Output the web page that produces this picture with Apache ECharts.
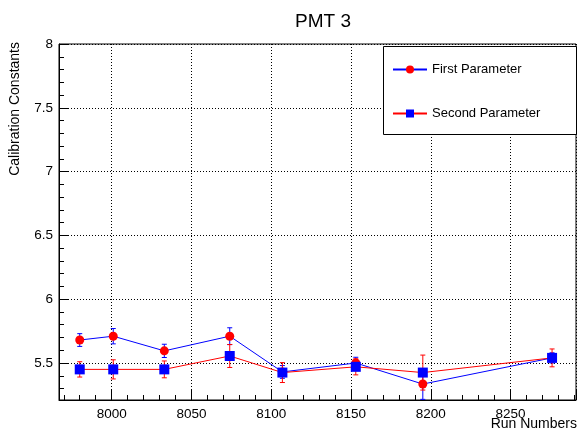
<!DOCTYPE html>
<html>
<head>
<meta charset="utf-8">
<script src="https://cdn.jsdelivr.net/npm/echarts@6/dist/echarts.min.js"></script>
<style>
  html, body { margin: 0; padding: 0; background: #fff; }
  #chart { width: 579px; height: 434px; }
</style>
</head>
<body>
<div id="chart"></div>
<script>
// run numbers and the two fit parameters with their errors
const runs = [7980, 8001, 8033, 8074, 8107, 8153, 8195, 8276];
const firstVals = [5.68, 5.71, 5.595, 5.71, 5.43, 5.50, 5.335, 5.54];
const firstErrs = [0.05, 0.06, 0.052, 0.066, 0.05, 0.045, 0.12, 0.04];
const secondVals = [5.45, 5.45, 5.45, 5.555, 5.425, 5.47, 5.425, 5.54];
const secondErrs = [0.06, 0.075, 0.066, 0.09, 0.078, 0.063, 0.137, 0.07];

const font = "Liberation Sans";

function pairs(xs, ys) {
  return xs.map((x, i) => [x, ys[i]]);
}
function errData(xs, ys, es) {
  return xs.map((x, i) => [x, ys[i], es[i]]);
}
function errBars(color) {
  return function (params, api) {
    const x = api.value(0), y = api.value(1), e = api.value(2);
    const lo = api.coord([x, y - e]);
    const hi = api.coord([x, y + e]);
    const cap = 2.5;
    const style = { stroke: color, lineWidth: 1 };
    return {
      type: "group",
      children: [
        { type: "line", shape: { x1: lo[0], y1: lo[1], x2: hi[0], y2: hi[1] }, style: style },
        { type: "line", shape: { x1: lo[0] - cap, y1: lo[1], x2: lo[0] + cap, y2: lo[1] }, style: style },
        { type: "line", shape: { x1: hi[0] - cap, y1: hi[1], x2: hi[0] + cap, y2: hi[1] }, style: style }
      ]
    };
  };
}

const chart = echarts.init(document.getElementById("chart"));
chart.setOption({
  animation: false,
  title: {
    text: "PMT 3",
    left: 290,
    top: 7,
    textStyle: { fontFamily: font, fontSize: 19, fontWeight: "normal", color: "#000" }
  },
  grid: {
    left: 59, right: 2, top: 44, bottom: 34,
    show: true, borderColor: "#000", borderWidth: 1, backgroundColor: "transparent"
  },
  legend: {
    orient: "vertical",
    left: 387,
    top: 58,
    itemGap: 31,
    itemWidth: 34,
    itemHeight: 10,
    z: 10,
    textStyle: { fontFamily: font, fontSize: 13, color: "#000" },
    data: ["First Parameter", "Second Parameter"]
  },
  graphic: [
    {
      type: "rect", z: 9,
      shape: { x: 383.5, y: 46.5, width: 193, height: 88 },
      style: { fill: "#fff", stroke: "#000", lineWidth: 1 }
    },
    {
      type: "text", x: 577, y: 417,
      style: { text: "Run Numbers", textAlign: "right", textVerticalAlign: "top",
               fontFamily: font, fontSize: 14, fill: "#000" }
    },
    {
      type: "text", x: 8, y: 42, rotation: Math.PI / 2,
      style: { text: "Calibration Constants", textAlign: "right", textVerticalAlign: "top",
               fontFamily: font, fontSize: 14, fill: "#000" }
    }
  ],
  xAxis: {
    type: "value",
    min: 7967,
    max: 8291,
    splitNumber: 6,
    axisLine: { lineStyle: { color: "#000" } },
    axisTick: { inside: true, length: 10, lineStyle: { color: "#000" } },
    minorTick: { show: true, splitNumber: 5, length: 5, lineStyle: { color: "#000" } },
    axisLabel: {
      color: "#000", fontFamily: font, fontSize: 13.5, margin: 7,
      formatter: v => (v % 50 === 0 ? String(v) : "")
    },
    splitLine: { show: true, lineStyle: { color: "#000", type: [1, 2] } }
  },
  yAxis: {
    type: "value",
    min: 5.21,
    max: 8,
    splitNumber: 5,
    axisLine: { show: true, lineStyle: { color: "#000" } },
    axisTick: { show: true, inside: true, length: 10, lineStyle: { color: "#000" } },
    minorTick: { show: true, splitNumber: 5, length: 5, lineStyle: { color: "#000" } },
    axisLabel: {
      color: "#000", fontFamily: font, fontSize: 13.5, margin: 6,
      formatter: v => (Math.abs(v * 2 - Math.round(v * 2)) < 1e-6 ? String(+v.toFixed(1)) : "")
    },
    splitLine: { show: true, lineStyle: { color: "#000", type: [1, 2] } }
  },
  series: [
    {
      name: "First Parameter err",
      type: "custom",
      renderItem: errBars("#0000ff"),
      data: errData(runs, firstVals, firstErrs),
      z: 2,
      silent: true
    },
    {
      name: "First Parameter",
      type: "line",
      data: pairs(runs, firstVals),
      symbol: "circle",
      symbolSize: 9,
      lineStyle: { color: "#0000ff", width: 1 },
      itemStyle: { color: "#ff0000" },
      z: 3
    },
    {
      name: "Second Parameter err",
      type: "custom",
      renderItem: errBars("#ff0000"),
      data: errData(runs, secondVals, secondErrs),
      z: 4,
      silent: true
    },
    {
      name: "Second Parameter",
      type: "line",
      data: pairs(runs, secondVals),
      symbol: "rect",
      symbolSize: 10,
      lineStyle: { color: "#ff0000", width: 1 },
      itemStyle: { color: "#0000ff" },
      z: 5
    }
  ]
});
</script>
</body>
</html>
